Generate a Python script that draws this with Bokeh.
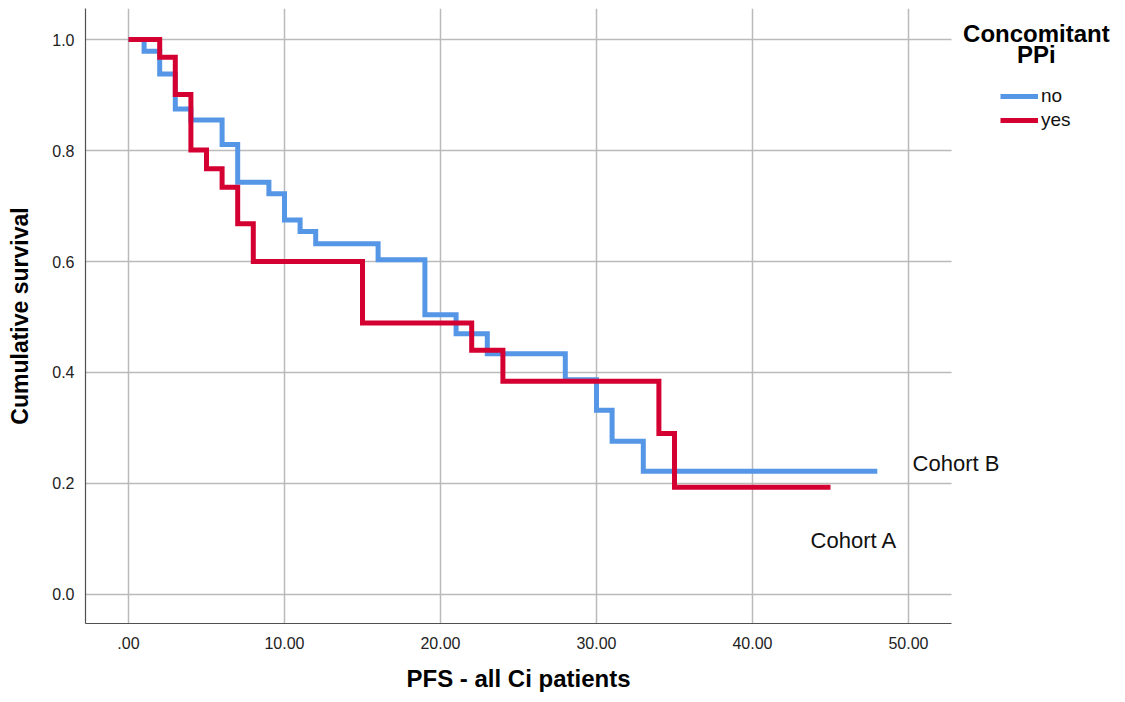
from bokeh.plotting import figure
from bokeh.models import FixedTicker, Label, Legend, LegendItem, Range1d, BoxAnnotation, Title
from bokeh.embed import file_html
from bokeh.resources import INLINE

# ---- data ----
no_time = [0, 1, 2, 3, 4, 6, 7, 9, 10, 11, 12, 16, 19, 21, 23, 28, 30, 31, 33, 48]
no_surv = [1.0, 0.979, 0.938, 0.875, 0.855, 0.811, 0.743, 0.722, 0.675, 0.654,
           0.632, 0.603, 0.504, 0.470, 0.434, 0.387, 0.332, 0.276, 0.222, 0.222]
yes_time = [0, 2, 3, 4, 5, 6, 7, 8, 15, 22, 24, 34, 35, 45]
yes_surv = [1.0, 0.968, 0.901, 0.801, 0.767, 0.734, 0.668, 0.600, 0.489, 0.440,
            0.384, 0.290, 0.193, 0.193]
series_labels = ["no", "yes"]
x_ticks = [0, 10, 20, 30, 40, 50]
x_tick_labels = [".00", "10.00", "20.00", "30.00", "40.00", "50.00"]
y_ticks = [0.0, 0.2, 0.4, 0.6, 0.8, 1.0]
y_tick_labels = ["0.0", "0.2", "0.4", "0.6", "0.8", "1.0"]
legend_title = ["Concomitant", "PPi"]
cohort_labels = ["Cohort B", "Cohort A"]
x_title = "PFS - all Ci patients"
y_title = "Cumulative survival"

FONT = "Liberation Sans"
BLUE = "#5596e6"
RED = "#d50032"

X_START, X_AXIS_END, X_END = -2.756, 52.76, 63.91
Y_START, Y_END = -0.0523, 1.0559

p = figure(width=1125, height=702, output_backend="svg", toolbar_location=None,
           x_range=Range1d(X_START, X_END), y_range=Range1d(Y_START, Y_END),
           min_border_left=85, min_border_right=0, min_border_top=8,
           min_border_bottom=79)
p.outline_line_color = None
p.background_fill_color = "white"
p.border_fill_color = "white"

p.xaxis.ticker = FixedTicker(ticks=x_ticks)
p.yaxis.ticker = FixedTicker(ticks=y_ticks)
p.xaxis.major_label_overrides = {t: l for t, l in zip(x_ticks, x_tick_labels)}
p.yaxis.major_label_overrides = {t: l for t, l in zip(y_ticks, y_tick_labels)}
p.xaxis.bounds = (X_START, X_AXIS_END)
for g in (p.xgrid, p.ygrid):
    g.grid_line_color = "#bababa"
    g.grid_line_width = 1.5

for ax in (p.xaxis, p.yaxis):
    ax.axis_line_color = "#505050"
    ax.axis_line_width = 1.2
    ax.major_tick_line_color = None
    ax.minor_tick_line_color = None
    ax.major_label_text_font = FONT
    ax.major_label_text_font_size = "16px"
    ax.major_label_text_color = "#222222"
    ax.axis_label_text_font = FONT
    ax.axis_label_text_font_style = "bold"
    ax.axis_label_text_color = "#000000"

p.yaxis.axis_label = y_title
p.yaxis.axis_label_text_font_size = "23px"
p.xaxis.major_label_standoff = 7
p.yaxis.major_label_standoff = 5
p.yaxis.axis_label_standoff = 16

# x-axis title, centred under the axis extent (not the whole drawing area)
p.add_layout(Title(text=x_title, align="left", offset=321, standoff=22,
                   text_font=FONT, text_font_size="24px", text_font_style="bold",
                   text_color="#000000"), "below")

# plain white area to the right of the plotting region (legend / notes area)
p.add_layout(BoxAnnotation(left=X_AXIS_END, fill_color="white", fill_alpha=1.0,
                           line_color=None, level="underlay"))

r_no = p.step(no_time, no_surv, mode="after", line_color=BLUE, line_width=5,
              line_join="miter")
r_yes = p.step(yes_time, yes_surv, mode="after", line_color=RED, line_width=5,
               line_join="miter")

legend = Legend(items=[LegendItem(label=series_labels[0], renderers=[r_no]),
                       LegendItem(label=series_labels[1], renderers=[r_yes])],
                location=(915, 491), orientation="vertical")
legend.background_fill_alpha = 0
legend.border_line_color = None
legend.padding = 0
legend.margin = 0
legend.spacing = 0
legend.glyph_width = 38
legend.glyph_height = 24
legend.label_height = 24
legend.label_standoff = 3
legend.label_text_font = FONT
legend.label_text_font_size = "19px"
legend.label_text_color = "#111111"
p.add_layout(legend, "center")

# legend title
p.add_layout(Label(x=58.2, y=1.0112, text=legend_title[0], text_align="center",
                   text_baseline="middle", text_font=FONT, text_font_style="bold",
                   text_font_size="24px", text_color="#000000"))
p.add_layout(Label(x=58.2, y=0.9735, text=legend_title[1], text_align="center",
                   text_baseline="middle", text_font=FONT, text_font_style="bold",
                   text_font_size="24px", text_color="#000000"))

# cohort annotations
p.add_layout(Label(x=50.26, y=0.236, text=cohort_labels[0], text_align="left",
                   text_baseline="middle", text_font=FONT, text_font_size="22px",
                   text_color="#111111"))
p.add_layout(Label(x=43.72, y=0.097, text=cohort_labels[1], text_align="left",
                   text_baseline="middle", text_font=FONT, text_font_size="22px",
                   text_color="#111111"))

open("out.html", "w").write(file_html(p, INLINE))
